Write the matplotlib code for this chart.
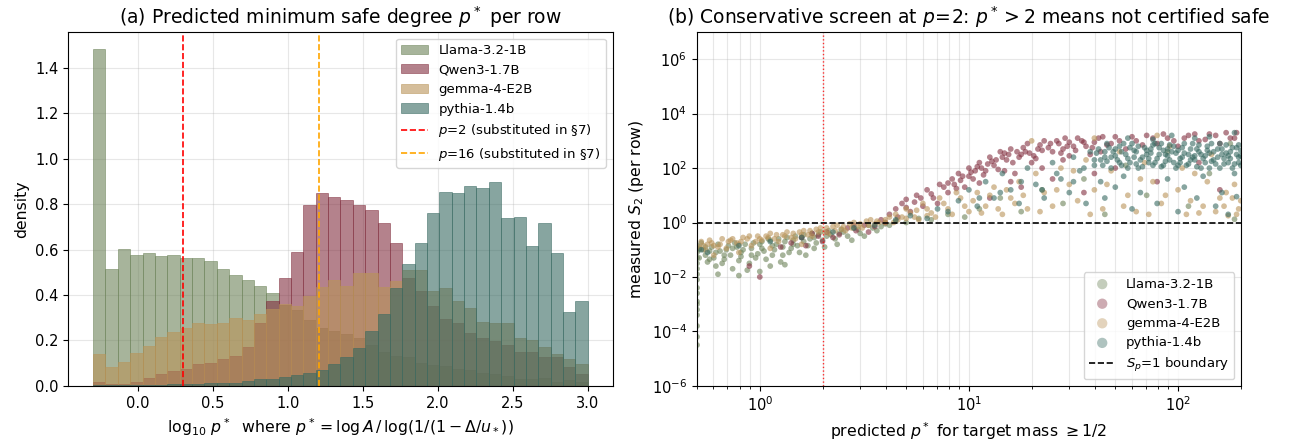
import numpy as np
import matplotlib
matplotlib.use("Agg")
import matplotlib.pyplot as plt
from matplotlib.ticker import NullLocator

# ---- data -----------------------------------------------------------------
models = ["Llama-3.2-1B", "Qwen3-1.7B", "gemma-4-E2B", "pythia-1.4b"]
colors = ["#6c8258", "#822f3f", "#b99358", "#376961"]

# 40 histogram bins of log10 p* between -0.3 and 3.0 (density per bin)
bin_lo, bin_hi, n_bins = -0.3, 3.0, 40
llama_density = [1.485, 0.517, 0.604, 0.578, 0.587, 0.574, 0.578, 0.565, 0.565, 0.552,
                 0.517, 0.490, 0.468, 0.442, 0.411, 0.358, 0.332, 0.288, 0.253, 0.240,
                 0.227, 0.209, 0.180, 0.150, 0.130, 0.127, 0.101, 0.091, 0.086, 0.073,
                 0.069, 0.056, 0.051, 0.042, 0.029, 0.029, 0.034, 0.016, 0.025, 0.016]
qwen_density = [0.018, 0.010, 0.010, 0.018, 0.034, 0.051, 0.066, 0.073, 0.095, 0.100,
                0.117, 0.130, 0.170, 0.278, 0.372, 0.477, 0.591, 0.797, 0.850, 0.833,
                0.819, 0.797, 0.774, 0.718, 0.631, 0.473, 0.420, 0.350, 0.293, 0.275,
                0.231, 0.209, 0.196, 0.179, 0.148, 0.148, 0.126, 0.126, 0.082, 0.051]
gemma_density = [0.140, 0.082, 0.104, 0.143, 0.174, 0.214, 0.236, 0.253, 0.275, 0.272,
                 0.275, 0.301, 0.288, 0.315, 0.340, 0.360, 0.350, 0.395, 0.435, 0.465,
                 0.442, 0.499, 0.499, 0.437, 0.464, 0.512, 0.512, 0.420, 0.429, 0.372,
                 0.345, 0.280, 0.275, 0.275, 0.209, 0.200, 0.170, 0.139, 0.117, 0.095]
pythia_density = [0.004, 0.004, 0.004, 0.004, 0.005, 0.005, 0.006, 0.006, 0.008, 0.012,
                  0.012, 0.014, 0.020, 0.029, 0.029, 0.038, 0.047, 0.056, 0.069, 0.095,
                  0.126, 0.165, 0.240, 0.315, 0.433, 0.537, 0.629, 0.762, 0.855, 0.850,
                  0.881, 0.872, 0.898, 0.740, 0.745, 0.616, 0.718, 0.587, 0.326, 0.376]

# scatter points, as (log10 p*, log10 S2)
llama_pts = [(-0.30, -0.85), (-0.30, -1.1), (-0.30, -1.5), (-0.30, -1.9), (-0.30, -2.4),
             (-0.30, -2.9), (-0.30, -3.4), (-0.30, -4.2), (-0.29, -1.3), (-0.29, -0.95),
             (-0.30, -1.7), (-0.30, -2.1), (-0.30, -3.0), (-0.30, -3.8), (-0.30, -4.5),
             (-0.30, -1.3), (-0.30, -2.6), (-0.30, -3.2), (-0.29, -1.0), (-0.26, -0.9),
             (-0.27, -1.0), (-0.25, -1.45), (-0.23, -0.9), (-0.21, -1.6), (-0.19, -1.05),
             (-0.17, -1.35), (-0.15, -0.85), (-0.13, -1.7), (-0.11, -0.9), (-0.09, -1.25),
             (-0.07, -0.8), (-0.05, -1.5), (-0.03, -0.75), (-0.01, -1.15), (0.01, -0.7),
             (0.03, -1.35), (0.05, -0.65), (0.07, -1.0), (0.09, -0.6), (0.11, -1.2),
             (0.13, -0.55), (0.15, -0.95), (0.17, -0.5), (0.19, -1.1), (0.21, -0.45),
             (0.23, -0.85), (0.25, -0.4), (0.27, -0.75), (0.29, -0.35), (0.31, -0.9),
             (0.33, -0.3), (0.36, -0.6), (0.39, -0.25), (0.42, -0.5), (0.45, -0.2),
             (0.48, -0.4), (0.52, -0.1), (0.56, -0.3), (0.60, -0.05), (0.65, 0.05),
             (-0.28, -0.75), (-0.26, -1.2), (-0.24, -1.05), (-0.22, -1.3), (-0.20, -0.8),
             (-0.18, -1.5), (-0.16, -1.0), (-0.14, -1.2), (-0.12, -0.75), (-0.10, -1.4),
             (-0.08, -1.0), (-0.06, -1.75), (-0.04, -0.95), (-0.02, -1.3), (0.00, -0.8),
             (0.02, -1.05), (0.04, -0.6), (0.06, -1.2), (0.08, -0.8), (0.10, -1.45),
             (0.12, -0.7), (0.14, -1.1), (0.16, -0.65), (0.18, -0.85), (0.20, -0.55),
             (0.22, -1.2), (0.24, -0.6), (0.26, -0.95), (0.28, -0.45), (0.30, -0.65),
             (0.34, -0.45), (0.37, -0.8), (0.40, -0.35), (0.44, -0.65), (0.47, -0.25),
             (0.50, -0.5), (0.54, -0.2), (0.58, -0.15), (0.62, -0.1), (-0.20, -1.9),
             (-0.10, -1.95), (0.00, -1.8), (0.05, -1.6), (0.12, -1.55),
             (-0.24, -1.35), (-0.21, -1.1), (-0.17, -1.2), (-0.13, -0.95), (-0.09, -1.1),
             (-0.04, -1.2), (0.01, -0.95), (0.06, -0.85), (0.11, -0.9), (0.16, -0.8),
             (0.21, -0.7), (0.26, -0.55), (0.32, -0.5), (0.38, -0.4),
             (0.70, 0.0), (0.76, 0.15), (0.82, 0.1), (0.90, 0.3), (0.98, 0.2),
             (1.05, 0.5), (1.15, 0.9), (1.25, 0.4), (1.35, 1.2), (1.45, 0.7),
             (1.55, 1.6), (1.65, 0.3), (1.75, 2.1), (1.85, 1.0), (1.95, 2.6),
             (2.05, 0.6), (2.15, 1.8), (2.25, 2.9), (2.27, 0.12)]
qwen_pts = [(-0.05, -1.6), (0.0, -2.0), (0.10, -0.9), (0.15, -0.75), (0.22, -0.85),
            (0.30, -0.7), (0.20, -0.55), (0.28, -0.5), (0.32, -0.35), (0.38, -0.45),
            (0.42, -0.2), (0.46, -0.3), (0.50, -0.1), (0.55, -0.15), (0.25, -0.4),
            (0.35, -0.55), (0.45, -0.1), (0.52, -0.35), (0.60, 0.0), (0.66, 0.2),
            (0.58, 0.1), (0.62, 0.3), (0.65, 0.5), (0.68, 0.7), (0.70, 0.85),
            (0.72, 0.4), (0.75, 1.0), (0.78, 0.6), (0.80, 1.2), (0.83, 0.9),
            (0.86, 1.4), (0.90, 1.1), (0.92, 1.6), (0.95, 1.8), (0.98, 1.3),
            (0.70, 0.55), (0.74, 0.75), (0.77, 0.9), (0.82, 1.05), (0.85, 0.7),
            (0.88, 1.3), (0.93, 1.4), (0.96, 1.55), (1.00, 1.7), (1.03, 1.9),
            (1.06, 2.0), (1.09, 2.15), (1.13, 2.3), (1.16, 2.4), (1.19, 2.5),
            (1.00, 2.0), (1.02, 1.6), (1.05, 2.2), (1.08, 1.9), (1.10, 2.4),
            (1.12, 2.1), (1.15, 2.6), (1.18, 2.3), (1.20, 2.7), (1.22, 1.8),
            (1.25, 2.5), (1.28, 2.9), (1.30, 2.2), (1.33, 2.7), (1.36, 3.0),
            (1.23, 2.6), (1.26, 2.75), (1.29, 2.55), (1.34, 2.85), (1.38, 2.75),
            (1.40, 2.6), (1.43, 2.9), (1.46, 3.1), (1.50, 2.8), (1.54, 3.0),
            (1.42, 3.0), (1.45, 2.7), (1.48, 2.95), (1.52, 3.1), (1.56, 2.8),
            (1.58, 2.5), (1.62, 3.1), (1.66, 2.85), (1.70, 3.15), (1.75, 2.7),
            (1.60, 2.95), (1.64, 3.15), (1.68, 2.9), (1.72, 3.0), (1.78, 3.15),
            (1.80, 3.0), (1.85, 3.2), (1.90, 2.9), (1.95, 3.1), (2.00, 2.8),
            (1.83, 2.85), (1.88, 3.1), (1.93, 3.25), (1.98, 3.0), (2.03, 3.1),
            (2.05, 3.2), (2.10, 3.0), (2.15, 3.25), (2.20, 2.9), (2.25, 3.1),
            (2.08, 3.25), (2.13, 3.05), (2.18, 3.2), (2.23, 3.3), (2.27, 3.1),
            (1.01, 1.85), (1.04, 2.05), (1.07, 1.75), (1.11, 2.25), (1.14, 1.95),
            (1.17, 2.55), (1.21, 2.2), (1.24, 2.4), (1.27, 2.6), (1.31, 2.45),
            (1.35, 2.65), (1.39, 2.9), (1.44, 2.55), (1.47, 2.8), (1.51, 2.65),
            (1.55, 2.95), (1.59, 2.75), (0.90, 1.45), (0.94, 1.25), (0.97, 1.7),
            (2.28, 3.3), (1.10, 0.9), (1.25, 1.3), (1.40, 1.6), (1.55, 1.1),
            (1.70, 2.0), (1.90, 1.5), (2.10, 2.2), (2.20, 1.2), (1.05, 1.45),
            (1.17, 1.9), (1.32, 2.35), (1.48, 2.45), (1.63, 2.6), (1.20, 1.5),
            (1.35, 2.0), (1.45, 2.3), (1.60, 1.8)]
gemma_pts = [(-0.29, -0.9), (-0.25, -0.8), (-0.20, -0.9), (-0.15, -0.7), (-0.10, -0.8),
             (-0.06, -0.6), (-0.02, -0.7), (0.03, -0.5), (0.07, -0.6), (0.11, -0.45),
             (0.15, -0.55), (0.19, -0.35), (0.23, -0.45), (0.27, -0.25), (0.31, -0.35),
             (0.35, -0.15), (0.39, -0.25), (0.43, -0.05), (0.47, -0.15), (0.51, 0.05),
             (0.55, -0.05), (0.60, 0.1), (0.64, 0.0), (0.68, 0.2), (-0.22, -1.2),
             (-0.28, -0.7), (-0.26, -1.0), (-0.24, -0.65), (-0.22, -0.85), (-0.18, -0.6),
             (-0.16, -0.95), (-0.13, -0.6), (-0.11, -0.75), (-0.08, -0.55), (-0.04, -0.85),
             (-0.01, -0.5), (0.01, -0.65), (0.05, -0.4), (0.09, -0.7), (0.13, -0.35),
             (0.17, -0.6), (0.21, -0.3), (0.25, -0.5), (0.29, -0.2), (0.33, -0.4),
             (0.37, -0.1), (0.41, -0.3), (0.45, 0.0), (0.49, -0.2), (0.53, 0.1),
             (0.57, 0.0), (0.62, 0.2), (0.66, 0.1), (0.70, 0.5), (0.74, 0.2),
             (-0.27, -0.85), (-0.23, -0.75), (-0.19, -0.8), (-0.14, -0.65), (-0.09, -0.7),
             (-0.05, -0.5), (0.00, -0.6), (0.04, -0.55), (0.08, -0.45), (0.12, -0.5),
             (0.16, -0.4), (0.20, -0.45), (0.24, -0.3), (0.28, -0.35), (0.32, -0.2),
             (0.36, -0.3), (0.40, -0.15), (0.44, -0.2), (0.48, -0.05), (0.52, -0.1),
             (0.56, 0.05), (0.60, 0.0), (0.65, 0.3), (0.70, 0.15), (0.75, 0.45),
             (0.80, 0.25), (-0.10, -1.1), (0.05, -0.95), (0.20, -0.8), (0.72, 0.35),
             (0.76, 0.1), (0.80, 0.5), (0.84, 0.2), (0.88, 0.7), (0.92, 0.3),
             (0.96, 0.9), (0.78, 0.7), (0.82, 0.35), (0.86, 0.9), (0.90, 0.5),
             (0.94, 1.1), (0.98, 0.6), (1.02, 0.8), (1.06, 0.35), (1.10, 1.0),
             (1.14, 0.5), (1.00, 0.4), (1.04, 1.1), (1.08, 0.6), (1.12, 1.3),
             (1.16, 0.3), (1.18, 1.2), (1.22, 0.7), (1.26, 1.0), (1.34, 0.4),
             (1.42, 1.2), (1.20, 0.9), (1.24, 1.5), (1.28, 0.5), (1.32, 1.8),
             (1.36, 1.1), (1.40, 0.6), (1.44, 2.0), (1.48, 1.4), (1.52, 0.8),
             (1.56, 2.3), (1.50, 1.9), (1.58, 0.3), (1.66, 1.4), (1.74, 0.6),
             (1.82, 1.6), (1.60, 1.2), (1.64, 0.5), (1.68, 1.9), (1.72, 2.6),
             (1.76, 1.0), (1.80, 0.4), (1.84, 2.2), (1.88, 1.5), (1.92, 0.7),
             (1.96, 2.8), (1.86, 0.3), (1.94, 1.0), (2.02, 2.0), (2.06, 0.8),
             (2.14, 1.5), (2.00, 1.2), (2.04, 0.3), (2.08, 1.8), (2.12, 0.6),
             (2.16, 2.5), (2.20, 0.9), (2.24, 0.25), (2.27, 1.4), (2.29, 0.5),
             (1.30, 3.0), (2.18, 0.4), (2.23, 1.1), (2.28, 0.3), (2.30, 0.8),
             (1.60, 3.1), (1.90, 3.2), (2.22, 0.6), (2.26, 0.9), (2.10, 0.35)]
pythia_pts = [(-0.25, -1.1), (0.05, -0.7), (0.35, -0.35), (0.55, -0.1), (0.72, 0.25),
              (-0.28, -1.0), (-0.10, -0.85), (0.20, -0.55), (0.45, -0.2), (0.65, 0.1),
              (0.80, 0.15), (0.90, 0.4), (1.05, 0.9), (1.15, 1.1), (1.25, 1.5),
              (1.35, 1.2), (1.42, 1.8), (1.50, 1.5), (1.55, 2.0),
              (0.85, 0.5), (0.95, 0.8), (1.00, 1.2), (1.04, 0.6), (1.08, 1.5),
              (1.12, 0.9), (1.16, 1.8), (1.20, 1.2), (1.24, 0.7), (1.28, 2.0),
              (1.32, 1.4), (1.36, 0.9), (1.40, 2.2), (1.44, 1.6), (1.48, 1.1),
              (1.50, 2.4), (1.53, 1.9), (1.56, 0.7), (1.58, 2.6), (1.60, 2.1),
              (1.62, 2.7), (1.63, 1.5), (1.65, 2.4), (1.66, 2.9), (1.68, 2.0),
              (1.69, 2.6), (1.71, 2.3), (1.72, 2.8), (1.74, 1.7), (1.75, 2.5),
              (1.77, 2.2), (1.78, 2.9), (1.80, 2.6), (1.81, 2.0), (1.83, 2.4),
              (1.84, 2.75), (1.86, 2.2), (1.87, 2.55), (1.89, 2.9), (1.90, 2.35),
              (1.92, 2.05), (1.93, 2.65), (1.95, 2.45), (1.96, 2.85), (1.98, 2.2),
              (1.99, 2.55), (2.01, 2.35), (2.02, 2.75), (2.04, 2.1), (2.05, 2.5),
              (2.07, 2.9), (2.08, 2.3), (2.10, 2.6), (2.11, 2.0), (2.13, 2.45),
              (2.14, 2.8), (2.16, 2.25), (2.17, 2.6), (2.19, 2.4), (2.20, 2.9),
              (2.22, 2.15), (2.23, 2.55), (2.25, 2.35), (2.26, 2.75), (2.28, 2.5),
              (2.29, 2.2), (2.30, 2.65), (1.76, 3.1), (1.97, 3.2), (2.15, 3.15),
              (1.60, 2.3), (1.61, 2.55), (1.64, 2.1), (1.67, 2.75), (1.70, 2.45),
              (1.73, 2.1), (1.76, 2.35), (1.79, 2.65), (1.82, 2.3), (1.85, 2.5),
              (1.88, 2.1), (1.91, 2.75), (1.94, 2.25), (1.97, 2.6), (2.00, 2.1),
              (2.03, 2.55), (2.06, 2.3), (2.09, 2.7), (2.12, 2.35), (2.15, 2.55),
              (2.18, 2.15), (2.21, 2.7), (2.24, 2.45), (2.27, 2.15), (2.30, 2.45),
              (1.66, 2.25), (1.73, 2.6), (1.80, 2.15), (1.87, 2.7), (1.94, 2.5),
              (2.01, 2.2), (2.08, 2.45), (2.15, 2.0), (2.22, 2.35), (2.29, 2.85),
              (1.76, 2.0), (1.77, 2.75), (1.79, 2.4), (1.81, 2.8), (1.83, 2.05),
              (1.85, 2.65), (1.86, 2.35), (1.88, 2.85), (1.89, 2.2), (1.91, 2.5),
              (1.92, 2.9), (1.93, 2.1), (1.95, 2.7), (1.96, 2.3), (1.98, 2.8),
              (1.99, 2.0), (2.00, 2.65), (2.02, 2.4), (2.03, 2.9), (2.05, 2.15),
              (2.06, 2.7), (2.07, 2.4), (2.09, 2.05), (2.10, 2.85), (2.11, 2.5),
              (2.13, 2.2), (2.14, 2.65), (2.16, 2.9), (2.17, 2.3), (2.19, 2.7),
              (2.20, 2.0), (2.21, 2.5), (2.23, 2.85), (2.24, 2.2), (2.25, 2.6),
              (2.26, 2.0), (2.28, 2.75), (2.29, 2.4), (2.30, 2.1), (1.70, 2.7),
              (1.72, 2.2), (1.68, 2.4), (1.65, 2.6), (1.63, 2.3), (1.74, 2.9),
              (2.27, 3.3), (1.88, 3.05), (2.08, 3.1), (1.70, 1.3), (1.82, 1.1),
              (1.95, 1.6), (2.03, 1.3), (2.12, 1.7), (2.21, 1.1), (2.27, 1.8),
              (1.90, 0.7), (2.09, 0.9), (2.28, 0.95), (1.78, 0.5), (2.00, 0.4),
              (2.18, 0.6), (1.65, 0.9), (2.24, 0.3)]

densities = [llama_density, qwen_density, gemma_density, pythia_density]
points = [llama_pts, qwen_pts, gemma_pts, pythia_pts]

p_lines = [2, 16]
p_line_colors = ["red", "orange"]

# ---- figure ---------------------------------------------------------------
fig, (ax1, ax2) = plt.subplots(1, 2, figsize=(12.9, 4.44), dpi=100)
fig.subplots_adjust(left=0.053, right=0.962, bottom=0.131, top=0.928, wspace=0.155)

edges = np.linspace(bin_lo, bin_hi, n_bins + 1)
for name, c, dens in zip(models, colors, densities):
    ax1.hist(edges[:-1], bins=edges, weights=dens, color=c, alpha=0.6,
             edgecolor=c, linewidth=0.6, label=name)
for p, c in zip(p_lines, p_line_colors):
    ax1.axvline(np.log10(p), color=c, linestyle="--", linewidth=1.2,
                label=f"$p$={p} (substituted in §7)")
ax1.set_title("(a) Predicted minimum safe degree $p^*$ per row", fontsize=13.5)
ax1.set_xlabel(r"$\log_{10}\,p^*$  where $p^* = \log A\,/\,\log(1/(1-\Delta/u_*))$",
               fontsize=11.3)
ax1.set_ylabel("density", fontsize=11.3)
ax1.grid(True, alpha=0.3)
ax1.set_axisbelow(True)
ax1.legend(loc="upper right", fontsize=9.5)

for name, c, pts in zip(models, colors, points):
    lx, ly = np.array(pts).T
    ax2.scatter(10 ** lx, 10 ** ly, s=17, color=c, alpha=0.6,
                edgecolors="none", label=name)
ax2.axhline(1, color="black", linestyle="--", linewidth=1.2, label="$S_p$=1 boundary")
ax2.axvline(2, color="red", linestyle=":", linewidth=1.0, alpha=0.8)
ax2.set_xscale("log")
ax2.set_yscale("log")
ax2.set_xlim(0.5, 200)
ax2.set_ylim(1e-6, 1e7)
ax2.set_yticks([1e-6, 1e-4, 1e-2, 1e0, 1e2, 1e4, 1e6])
ax2.yaxis.set_minor_locator(NullLocator())
ax2.grid(True, which="both", alpha=0.3)
ax2.set_axisbelow(True)
ax2.set_title("(b) Conservative screen at $p\\!=\\!2$: $p^* > 2$ means not certified safe",
              fontsize=13.5)
ax2.set_xlabel(r"predicted $p^*$ for target mass $\geq 1/2$", fontsize=11.3)
ax2.set_ylabel("measured $S_2$ (per row)", fontsize=11.3)
leg = ax2.legend(loc="lower right", fontsize=9.5, markerscale=1.8)
for h in leg.legend_handles[:len(models)]:
    h.set_alpha(0.4)

for ax in (ax1, ax2):
    ax.tick_params(labelsize=10.5)

fig.savefig("out.png", dpi=100)
